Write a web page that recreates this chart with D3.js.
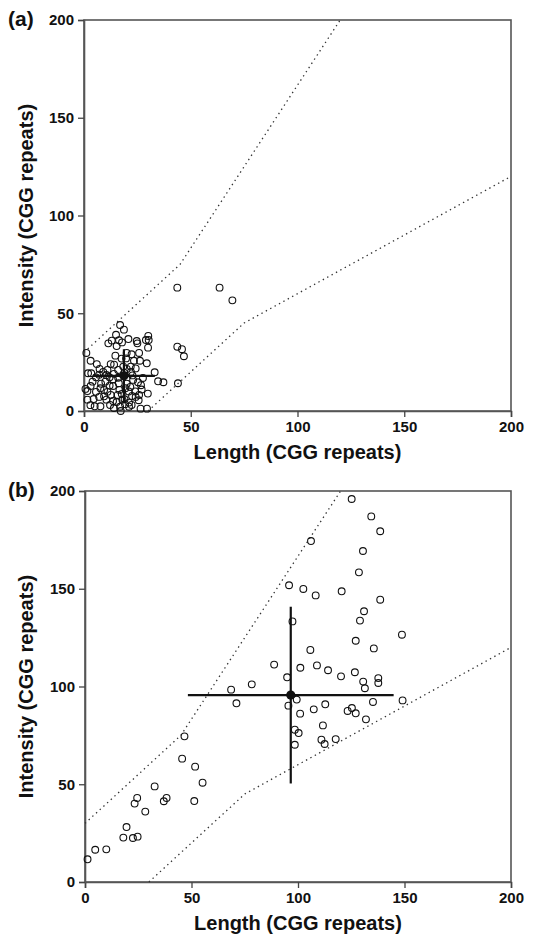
<!DOCTYPE html>
<html><head><meta charset="utf-8">
<script src="https://cdn.jsdelivr.net/npm/d3@7"></script>
<style>
html,body{margin:0;padding:0;background:#fff;}
svg text{font-family:"Liberation Sans",Arial,Helvetica,sans-serif;font-weight:bold;fill:#111;}
</style></head>
<body>
<svg id="chart" width="534" height="946"></svg>
<script>
// ---- data ----
const panelLabels = ["(a)", "(b)"];
const xTitle = "Length (CGG repeats)";
const yTitle = "Intensity (CGG repeats)";
const xTickValues = [0, 50, 100, 150, 200];
const yTickValues = [0, 50, 100, 150, 200];
const upperBound = [[0, 30], [45, 75], [120, 200]];
const lowerBound = [[30, 0], [75, 45], [200, 120]];

const aPoints = [
 [43.7,63.1],[63.5,63.1],[69.5,56.6],[43.7,32.9],[45.9,31.6],[46.8,28.0],[44.0,14.2],[33.1,19.8],[34.7,15.2],[37.2,14.7],
 [30.1,38.4],[30.3,36.3],[29.0,36.3],[30.0,32.4],[16.9,44.0],[18.7,41.6],[24.7,35.8],[25.0,34.6],[20.8,36.8],[16.4,36.2],
 [17.8,35.1],[11.4,34.6],[15.3,33.2],[1.1,29.7],[3.1,25.7],[20.0,29.7],[22.3,29.0],[17.6,26.8],[14.7,28.3],[25.8,29.7],
 [23.4,25.7],[26.2,25.7],[29.4,24.4],[12.5,24.0],[14.1,23.7],[7.3,21.5],[1.9,19.3],[3.4,19.3],[7.1,18.6],[10.5,18.4],
 [12.0,17.2],[13.6,16.2],[5.6,17.2],[22.7,18.2],[18.4,22.7],[20.0,21.5],[21.9,22.7],[24.2,21.8],[27.6,16.9],[25.3,14.7],
 [26.7,13.2],[23.0,15.9],[21.7,12.3],[19.4,11.6],[16.3,14.2],[13.6,12.8],[7.7,11.6],[3.1,12.8],[0.7,11.3],[1.6,10.2],
 [29.9,8.9],[25.8,8.2],[22.5,7.7],[17.7,8.7],[15.8,8.2],[12.5,8.2],[9.4,7.5],[7.1,7.2],[4.5,6.1],[1.6,5.8],
 [10.5,5.8],[13.6,5.1],[18.0,5.8],[21.1,4.3],[25.6,5.5],[5.0,2.4],[7.7,2.4],[12.2,3.1],[16.9,2.2],[21.1,2.2],
 [22.3,3.1],[26.5,1.2],[29.5,1.2],[17.2,0],[9.4,10.8],[15.3,4.6],[19.2,3.5],[24.2,7.2],[5.6,9.8],[11.0,9.8],
 [16.6,10.8],[19.7,26.9],[18.9,19.5],[10,15],[9,20],[14,19],[16,17],[20,14],[21,10],[8,14],
 [12,13],[11,21],[6,24],[19,6],[14,1.5],[3,3],[27,11],[24,10],[15,39],[13,36],[22,20],[16,21],[4,15]
];
const bPoints = [
 [125.2,195.9],[134.4,187.0],[138.6,179.4],[106.1,174.4],[130.5,169.3],[128.6,158.4],[95.8,151.8],[102.5,149.9],[108.3,146.6],
 [120.5,148.7],[138.6,144.4],[131.0,138.5],[129.1,133.7],[97.4,133.3],[148.8,126.5],[127.1,123.4],[135.6,119.5],[105.8,118.7],
 [88.8,111.2],[101.1,109.6],[108.9,110.8],[114.1,108.3],[120.2,105.2],[126.7,107.3],[94.9,104.7],[130.6,102.5],[137.7,104.3],
 [137.7,101.8],[131.4,99.1],[78.3,101.1],[68.6,98.4],[71.1,91.4],[99.4,93.3],[95.5,90.2],[112.8,90.9],[135.2,92.1],[149.1,92.9],
 [101.0,86.1],[107.4,88.3],[123.3,87.5],[125.3,89.0],[127.1,86.3],[131.9,83.2],[111.7,80.1],[98.5,77.9],[100.3,76.2],
 [111.0,72.8],[117.7,73.1],[112.5,70.6],[98.5,70.2],
 [46.7,74.5],[45.6,63.1],[51.7,59.0],[55.2,50.8],[32.7,48.9],[24.5,43.0],[23.3,40.1],[38.3,43.0],[37.0,41.3],[51.3,41.4],[28.3,36.0],
 [19.5,28.1],[18.0,22.7],[22.5,22.5],[24.7,23.2],[4.8,16.5],[10.0,16.7],[1.2,11.6]
];
// mean and spread [x, y, xErr, yErr]
const aMean = [18.7, 18.0, 14.5, 13.6];
const bMean = [96.6, 95.6, 48.3, 45.2];

// ---- drawing ----
const svg = d3.select("#chart");
const panels = [
  {label: panelLabels[0], pts: aPoints, mean: aMean, left: 84, right: 511, top: 20, bottom: 411},
  {label: panelLabels[1], pts: bPoints, mean: bMean, left: 85, right: 511, top: 491, bottom: 882}
];

panels.forEach(p => {
  const x = d3.scaleLinear().domain([0, 200]).range([p.left, p.right]);
  const y = d3.scaleLinear().domain([0, 200]).range([p.bottom, p.top]);
  const g = svg.append("g");

  // frame
  g.append("rect").attr("x", p.left).attr("y", p.top)
    .attr("width", p.right - p.left).attr("height", p.bottom - p.top)
    .attr("fill", "none").attr("stroke", "#555").attr("stroke-width", 1.6);

  const xAxis = g.append("g").attr("transform", `translate(0,${p.bottom})`)
    .call(d3.axisBottom(x).tickValues(xTickValues).tickSize(6).tickPadding(4));
  const yAxis = g.append("g").attr("transform", `translate(${p.left},0)`)
    .call(d3.axisLeft(y).tickValues(yTickValues).tickSize(6).tickPadding(4));
  [xAxis, yAxis].forEach(a => {
    a.select(".domain").attr("stroke", "#555").attr("stroke-width", 1.6);
    a.selectAll(".tick line").attr("stroke", "#444").attr("stroke-width", 1.3);
    a.selectAll(".tick text").attr("font-size", 15).attr("font-weight", "bold")
      .attr("font-family", "Liberation Sans, Arial, sans-serif").attr("fill", "#111");
  });

  // boundary lines
  const line = d3.line().x(d => x(d[0])).y(d => y(d[1]));
  [upperBound, lowerBound].forEach(b => {
    g.append("path").attr("d", line(b)).attr("fill", "none")
      .attr("stroke", "#333").attr("stroke-width", 1.3).attr("stroke-dasharray", "1.4,3.6");
  });

  // points
  g.append("g").selectAll("circle").data(p.pts).join("circle")
    .attr("cx", d => x(d[0])).attr("cy", d => y(d[1])).attr("r", 3.4)
    .attr("fill", "none").attr("stroke", "#111").attr("stroke-width", 1.1);

  // mean with spread
  const [mx, my, ex, ey] = p.mean;
  g.append("line").attr("x1", x(mx - ex)).attr("x2", x(mx + ex)).attr("y1", y(my)).attr("y2", y(my))
    .attr("stroke", "#111").attr("stroke-width", 2.2);
  g.append("line").attr("x1", x(mx)).attr("x2", x(mx)).attr("y1", y(my - ey)).attr("y2", y(my + ey))
    .attr("stroke", "#111").attr("stroke-width", 2.2);
  g.append("circle").attr("cx", x(mx)).attr("cy", y(my)).attr("r", 4.6).attr("fill", "#111");

  // titles
  g.append("text").attr("x", (p.left + p.right) / 2).attr("y", p.bottom + 48)
    .attr("text-anchor", "middle").attr("font-size", 20).text(xTitle);
  g.append("text").attr("transform", `translate(33,${(p.top + p.bottom) / 2}) rotate(-90)`)
    .attr("text-anchor", "middle").attr("font-size", 20).text(yTitle);
  g.append("text").attr("x", 8).attr("y", p.top + 6).attr("font-size", 21).text(p.label);
});
</script>
</body></html>
